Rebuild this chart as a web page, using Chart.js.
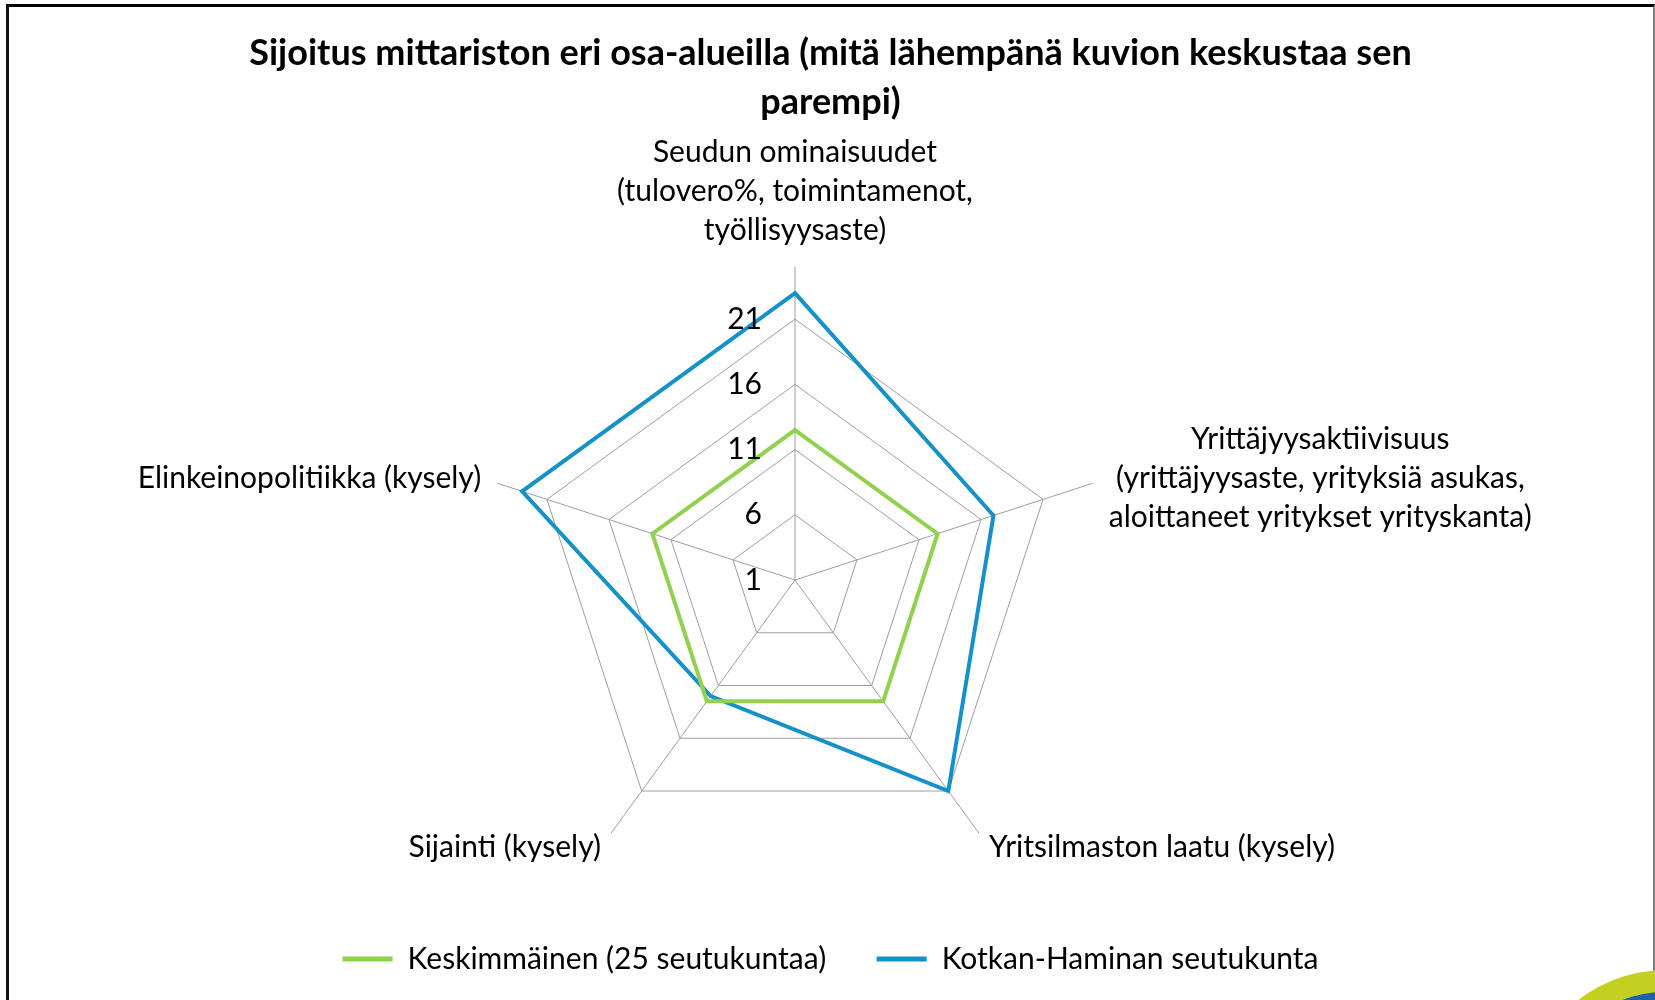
<!DOCTYPE html>
<html>
<head>
<meta charset="utf-8">
<script src="https://cdn.jsdelivr.net/npm/chart.js@4.4.1/dist/chart.umd.min.js"></script>
<style>
  html, body { margin: 0; padding: 0; background: #fff; overflow: hidden; }
  #wrap { position: relative; width: 1655px; height: 1000px; overflow: hidden; }
  #chart { position: absolute; left: 0; top: 0; }
  #frame {
    position: absolute; left: 6px; top: 4px; width: 1644px; height: 1100px;
    border-top: 3px solid #000; border-left: 3px solid #111; border-right: 2px solid #7f7f7f;
    pointer-events: none;
  }
  .logo { position: absolute; border-radius: 50%; }
  #logoOuter { left: 1525px; top: 970px; width: 280px; height: 280px; background: #c3cf21; }
  #logoInner { left: 1547px; top: 992px; width: 236px; height: 236px; background: #1e62a9; }
</style>
</head>
<body>
<div id="wrap">
  <canvas id="chart" width="1655" height="1000"></canvas>
  <div id="frame"></div>
  <div class="logo" id="logoOuter"></div>
  <div class="logo" id="logoInner"></div>
</div>
<script>
const titleLines = ['Sijoitus mittariston eri osa-alueilla (mitä lähempänä kuvion keskustaa sen', 'parempi)'];
const categories = [
  ['Seudun ominaisuudet', '(tulovero%, toimintamenot,', 'työllisyysaste)'],
  ['Yrittäjyysaktiivisuus', '(yrittäjyysaste, yrityksiä asukas,', 'aloittaneet yritykset yrityskanta)'],
  ['Yritsilmaston laatu (kysely)'],
  ['Sijainti (kysely)'],
  ['Elinkeinopolitiikka (kysely)']
];
const seriesNames = ['Keskimmäinen (25 seutukuntaa)', 'Kotkan-Haminan seutukunta'];
const medianValues = [12.5, 12.5, 12.5, 12.5, 12.5];
const kotkaValues = [23, 17, 21, 12, 23];
const tickValues = [1, 6, 11, 16, 21];
const scaleMin = 1;
const scaleMax = 25;

const GREEN = '#92d050';
const BLUE = '#1591c9';
const GRID = '#9e9e9e';
const FONT = 'Lato';
const LABEL_SIZE = 30;
const LINE_H = 39;

// tick numbers and the multi-line category labels, placed from the r scale
const axisText = {
  id: 'axisText',
  afterDatasetsDraw(chart) {
    const r = chart.scales.r;
    const ctx = chart.ctx;
    ctx.save();
    ctx.font = LABEL_SIZE + 'px ' + FONT;
    ctx.fillStyle = '#000';
    ctx.textBaseline = 'middle';

    ctx.textAlign = 'right';
    tickValues.forEach(v => {
      const d = r.getDistanceFromCenterForValue(v);
      ctx.fillText(String(v), r.xCenter - 33, r.yCenter - d);
    });

    ctx.textAlign = 'center';
    categories.forEach((lines, i) => {
      const p = r.getPointPosition(i, r.drawingArea + 17);
      const w = Math.max(...lines.map(l => ctx.measureText(l).width));
      const h = lines.length * LINE_H;
      const dx = p.x - r.xCenter;
      const dy = p.y - r.yCenter;
      let cx = p.x;
      if (dx > 1) cx = p.x + w / 2;
      else if (dx < -1) cx = p.x - w / 2;
      let top = p.y - h / 2;
      if (Math.abs(dx) <= 1) top = dy < 0 ? p.y - h : p.y;
      lines.forEach((l, k) => ctx.fillText(l, cx, top + LINE_H * k + LINE_H / 2));
    });
    ctx.restore();
  }
};

new Chart(document.getElementById('chart'), {
  type: 'radar',
  data: {
    labels: categories,
    datasets: [
      {
        label: seriesNames[0],
        data: medianValues,
        borderColor: GREEN,
        backgroundColor: GREEN,
        borderWidth: 4,
        pointRadius: 0,
        fill: false
      },
      {
        label: seriesNames[1],
        data: kotkaValues,
        borderColor: BLUE,
        backgroundColor: BLUE,
        borderWidth: 4,
        pointRadius: 0,
        fill: false
      }
    ]
  },
  options: {
    responsive: false,
    animation: false,
    devicePixelRatio: 1,
    layout: {
      padding: { left: 6, right: 0, top: 0, bottom: 16 }
    },
    plugins: {
      title: {
        display: true,
        text: titleLines,
        color: '#000',
        font: { family: FONT, size: 36, weight: 'bold', lineHeight: 49 / 36 },
        padding: { top: 28.5, bottom: 141 }
      },
      legend: {
        position: 'bottom',
        labels: {
          color: '#000',
          font: { family: FONT, size: LABEL_SIZE },
          boxWidth: 50,
          boxHeight: 5,
          padding: 50.5,
          generateLabels(chart) {
            return Chart.defaults.plugins.legend.labels.generateLabels(chart)
              .map(item => Object.assign(item, { lineWidth: 0 }));
          }
        }
      },
      tooltip: { enabled: false }
    },
    scales: {
      r: {
        min: scaleMin,
        max: scaleMax,
        ticks: { display: false, stepSize: 5 },
        afterBuildTicks(scale) {
          // rings at 1, 6, 11, 16, 21 and the (hidden) outer edge at 25
          scale.ticks = tickValues.concat(scaleMax).map(v => ({ value: v }));
        },
        grid: {
          color: c => (c.tick && c.tick.value === scaleMax) ? 'rgba(0,0,0,0)' : GRID,
          lineWidth: 1
        },
        angleLines: { color: GRID, lineWidth: 1 },
        pointLabels: { display: false },
        afterFit(scale) {
          // the plot sits a little left of the page centre
          scale.xCenter -= 35;
        }
      }
    }
  },
  plugins: [axisText]
});
</script>
</body>
</html>
